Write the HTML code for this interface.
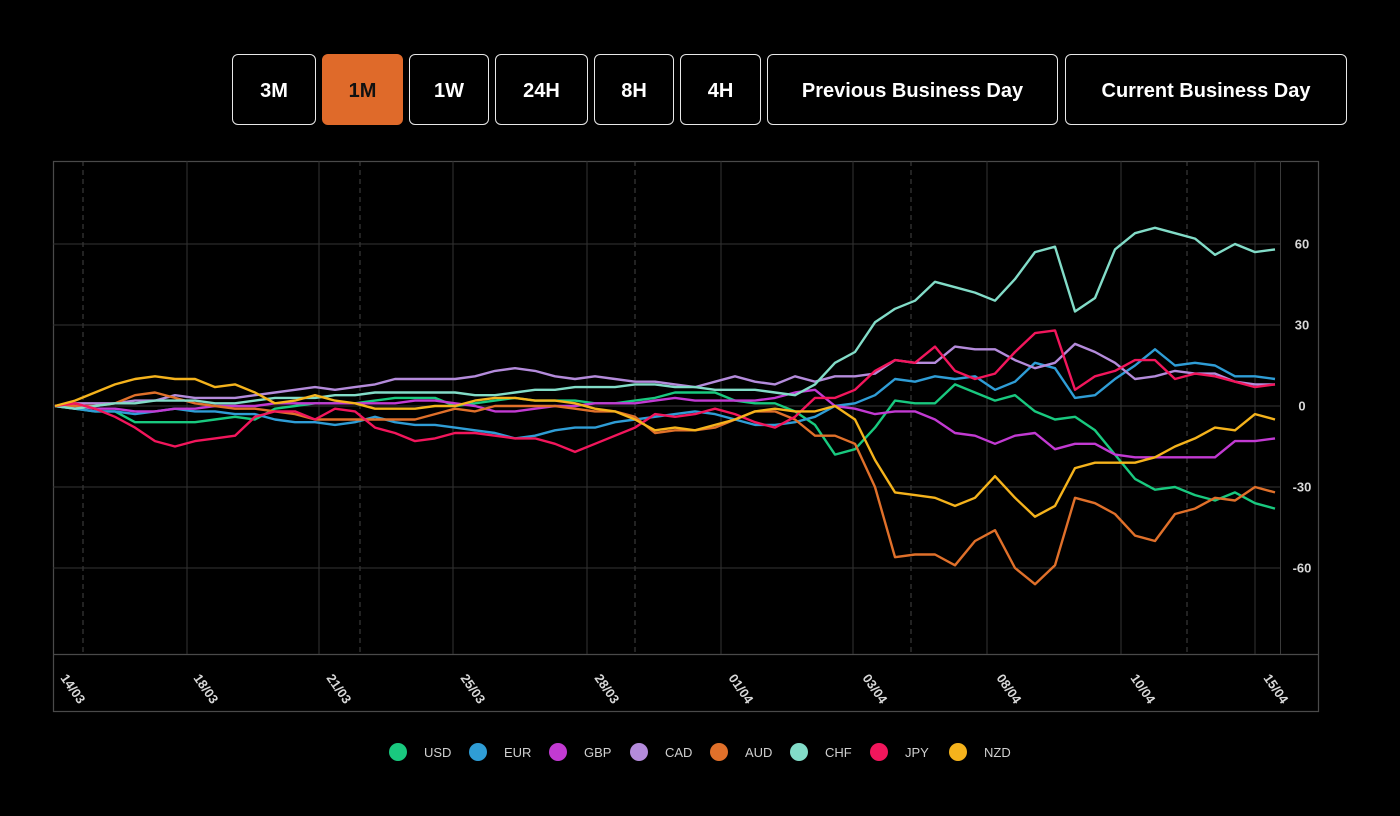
<!DOCTYPE html>
<html><head><meta charset="utf-8">
<style>
html,body{margin:0;padding:0;background:#000;width:1400px;height:816px;overflow:hidden;font-family:"Liberation Sans",sans-serif}
.btn{position:absolute;top:54px;height:71px;border:1.5px solid #e8e8e8;border-radius:6px;box-sizing:border-box;color:#fff;font-weight:bold;font-size:20px;display:flex;align-items:center;justify-content:center;background:#000;padding-top:4px}
.btn.on{background:#df6a2a;border-color:#df6a2a;color:#111}
</style></head><body>
<div class="btn" style="left:232px;width:84px">3M</div>
<div class="btn on" style="left:322px;width:81px">1M</div>
<div class="btn" style="left:409px;width:80px">1W</div>
<div class="btn" style="left:495px;width:93px">24H</div>
<div class="btn" style="left:594px;width:80px">8H</div>
<div class="btn" style="left:680px;width:81px">4H</div>
<div class="btn" style="left:767px;width:291px">Previous Business Day</div>
<div class="btn" style="left:1065px;width:282px">Current Business Day</div>
<svg id="chart" width="1400" height="816" style="position:absolute;left:0;top:0"></svg>
<script>
const series = ["USD","EUR","GBP","CAD","AUD","CHF","JPY","NZD"];
const colors = ["#19c97f","#2f9dd6","#c23ad2","#b48bdb","#e0702a","#82dcc8","#f2165c","#f5b31c"];
const yTicks = [60,30,0,-30,-60];
const xTickLabels = ["14/03","18/03","21/03","25/03","28/03","01/04","03/04","08/04","10/04","15/04"];
const USD = [0,-1,-2,-2,-6,-6,-6,-6,-5,-4,-5,-1,0,1,1,1,2,3,3,3,0,1,2,3,2,2,2,1,1,2,3,5,5,5,2,1,1,-2,-7,-18,-16,-8,2,1,1,8,5,2,4,-2,-5,-4,-9,-18,-27,-31,-30,-33,-35,-32,-36,-38];
const EUR = [0,-1,-2,-2,-3,-2,-1,-2,-2,-3,-3,-5,-6,-6,-7,-6,-4,-6,-7,-7,-8,-9,-10,-12,-11,-9,-8,-8,-6,-5,-4,-3,-2,-3,-5,-7,-7,-6,-4,0,1,4,10,9,11,10,11,6,9,16,14,3,4,10,15,21,15,16,15,11,11,10];
const GBP = [0,0,-1,-1,-2,-2,-1,-1,0,0,0,1,1,1,1,1,1,1,2,2,1,0,-2,-2,-1,0,0,1,1,1,2,3,2,2,2,2,3,5,6,0,-1,-3,-2,-2,-5,-10,-11,-14,-11,-10,-16,-14,-14,-18,-19,-19,-19,-19,-19,-13,-13,-12];
const CAD = [0,1,1,1,2,2,4,3,3,3,4,5,6,7,6,7,8,10,10,10,10,11,13,14,13,11,10,11,10,9,9,8,7,9,11,9,8,11,9,11,11,12,17,16,16,22,21,21,17,14,16,23,20,16,10,11,13,12,12,9,8,8];
const AUD = [0,0,0,1,4,5,3,1,0,-1,-1,-2,-3,-5,-5,-5,-5,-5,-5,-3,-1,-2,0,0,0,0,-1,-2,-2,-4,-10,-9,-9,-8,-5,-2,-2,-5,-11,-11,-14,-30,-56,-55,-55,-59,-50,-46,-60,-66,-59,-34,-36,-40,-48,-50,-40,-38,-34,-35,-30,-32];
const CHF = [0,-1,0,1,1,2,2,2,1,1,2,3,3,3,4,4,5,5,5,5,5,4,4,5,6,6,7,7,7,8,8,7,7,6,6,6,5,4,8,16,20,31,36,39,46,44,42,39,47,57,59,35,40,58,64,66,64,62,56,60,57,58];
const JPY = [0,1,-1,-4,-8,-13,-15,-13,-12,-11,-4,-2,-2,-5,-1,-2,-8,-10,-13,-12,-10,-10,-11,-12,-12,-14,-17,-14,-11,-8,-3,-4,-3,-1,-3,-6,-8,-4,3,3,6,13,17,16,22,13,10,12,20,27,28,6,11,13,17,17,10,12,11,9,7,8];
const NZD = [0,2,5,8,10,11,10,10,7,8,5,1,2,4,2,1,-1,-1,-1,0,0,2,3,3,2,2,1,-1,-2,-5,-9,-8,-9,-7,-5,-2,-1,-2,-2,0,-5,-20,-32,-33,-34,-37,-34,-26,-34,-41,-37,-23,-21,-21,-21,-19,-15,-12,-8,-9,-3,-5];
const values = [USD,EUR,GBP,CAD,AUD,CHF,JPY,NZD];

const NS="http://www.w3.org/2000/svg";
const svg=document.getElementById('chart');
const X0=55,X1=1275,Y0=406,PPU=2.7;
function xScale(i,n){return X0+i*(X1-X0)/(n-1);}
function yScale(v){return Y0-v*PPU;}
function mk(t,a,parent){const e=document.createElementNS(NS,t);for(const k in a)e.setAttribute(k,a[k]);(parent||svg).appendChild(e);return e;}

let fr=mk('rect',{x:53.5,y:161.5,width:1265,height:550,fill:'none',stroke:'#4a4a4a','stroke-width':1.2});


mk('line',{x1:53,y1:654.5,x2:1318,y2:654.5,stroke:'#4a4a4a','stroke-width':1.2});
mk('line',{x1:1280.5,y1:161,x2:1280.5,y2:654,stroke:'#3a3a3a','stroke-width':1});
[187,319,453,587,721,853,987,1121,1255].forEach(x=>mk('line',{x1:x,y1:161,x2:x,y2:654,stroke:'#333','stroke-width':1}));
[83,360,635,911,1187].forEach(x=>mk('line',{x1:x,y1:161,x2:x,y2:654,stroke:'#444','stroke-width':1,'stroke-dasharray':'5,4'}));
yTicks.forEach(v=>{
  const y=yScale(v);
  mk('line',{x1:53,y1:y,x2:1280,y2:y,stroke:'#333','stroke-width':1});
  const t=mk('text',{x:1302,y:y+4.5,fill:'#d8d8d8','font-size':13,'font-weight':'bold','text-anchor':'middle'});
  t.textContent=String(v);
  
  
});
const xl=[60,193,326,460,594,728,862,996,1130,1263];
xTickLabels.forEach((s,i)=>{
  const x=xl[i],y=678;
  const t=mk('text',{x:x,y:y,fill:'#d8d8d8','font-size':13,'font-weight':'bold',transform:`rotate(55 ${x} ${y})`});
  t.textContent=s;
  
  
});
values.forEach((arr,si)=>{
  const pts=arr.map((v,i)=>xScale(i,arr.length).toFixed(1)+','+yScale(v).toFixed(1)).join(' ');
  const p=mk('polyline',{points:pts,fill:'none',stroke:colors[si],'stroke-width':2.4,'stroke-linejoin':'round'});
  
  
});
const lx=[398,478,558,639,719,799,879,958];
series.forEach((s,i)=>{
  const g=mk('g',{});
  
  
  mk('circle',{cx:lx[i],cy:752,r:9,fill:colors[i]},g);
  const t=mk('text',{x:lx[i]+26,y:757,fill:'#d0d0d0','font-size':13},g);
  t.textContent=s;
});
</script>
</body></html>
